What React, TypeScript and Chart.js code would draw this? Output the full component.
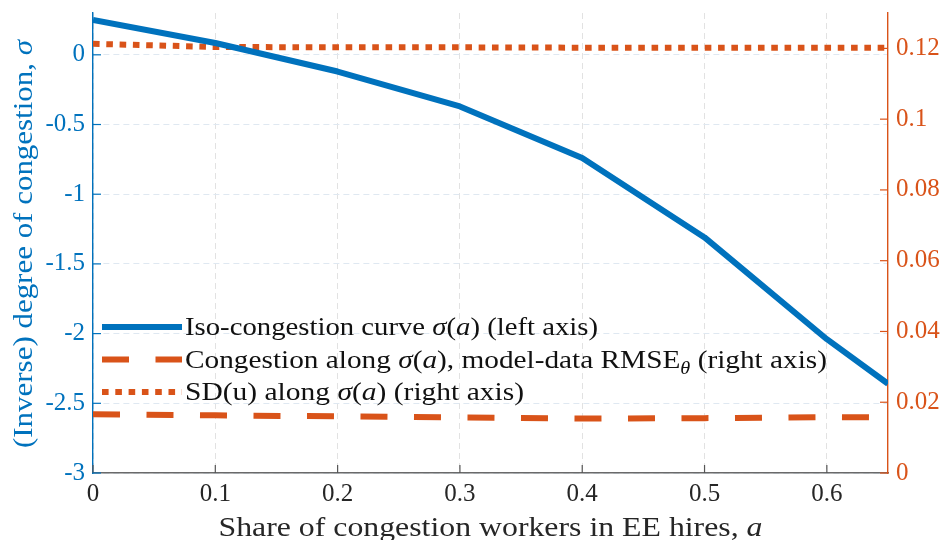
import { useEffect, useRef } from "react";
import { Chart, registerables } from "chart.js";

Chart.register(...registerables);

// ---- data ----
const aValues = [0, 0.1, 0.2, 0.3, 0.4, 0.5, 0.6, 0.65];
const sigmaValues = [0.25, 0.085, -0.12, -0.37, -0.74, -1.31, -2.04, -2.36];
const rmseValues = [0.0166, 0.0163, 0.016, 0.0157, 0.0154, 0.0155, 0.0158, 0.0157];
const sdValues = [0.1213, 0.1204, 0.1203, 0.1203, 0.1202, 0.1202, 0.1202, 0.1202];

const xTicks = [0, 0.1, 0.2, 0.3, 0.4, 0.5, 0.6];
const leftTicks = [-3, -2.5, -2, -1.5, -1, -0.5, 0];
const rightTicks = [0, 0.02, 0.04, 0.06, 0.08, 0.1, 0.12];

type Seg = { t: string; i?: boolean; sub?: boolean };

const xTitle: Seg[] = [{ t: "Share of congestion workers in EE hires, " }, { t: "a", i: true }];
const yTitle: Seg[] = [{ t: "(Inverse) degree of congestion, " }, { t: "σ", i: true }];
const legendItems: Seg[][] = [
  [{ t: "Iso-congestion curve " }, { t: "σ", i: true }, { t: "(" }, { t: "a", i: true }, { t: ") (left axis)" }],
  [
    { t: "Congestion along " },
    { t: "σ", i: true },
    { t: "(" },
    { t: "a", i: true },
    { t: "), model-data RMSE" },
    { t: "θ", i: true, sub: true },
    { t: " (right axis)" },
  ],
  [{ t: "SD(u) along " }, { t: "σ", i: true }, { t: "(" }, { t: "a", i: true }, { t: ") (right axis)" }],
];

// layout (text widths of the original typeset text, used to stretch the fallback serif)
const X_TITLE_W = 544;
const Y_TITLE_W = 408;
const LEGEND_W = [413, 642, 339];

const BLUE = "#0072BD";
const ORANGE = "#D95319";
const DARK = "#262626";
const FONT = '"Liberation Serif", "Times New Roman", serif';
const TICK_SIZE = 25;
const TITLE_SIZE = 27;
const LEGEND_SIZE = 26;

function segFont(s: Seg, size: number) {
  const sz = s.sub ? Math.round(size * 0.7) : size;
  return `${s.i ? "italic " : ""}${sz}px ${FONT}`;
}
function richWidth(ctx: CanvasRenderingContext2D, segs: Seg[], size: number) {
  let w = 0;
  for (const s of segs) {
    ctx.font = segFont(s, size);
    w += ctx.measureText(s.t).width;
  }
  return w;
}
// draws rich text starting at x (baseline y), stretched horizontally to width w
function drawRich(ctx: CanvasRenderingContext2D, segs: Seg[], x: number, y: number, size: number, w: number) {
  const natural = richWidth(ctx, segs, size);
  const sx = w / natural;
  ctx.save();
  ctx.translate(x, y);
  ctx.scale(sx, 1);
  let cx = 0;
  for (const s of segs) {
    ctx.font = segFont(s, size);
    ctx.fillText(s.t, cx, s.sub ? size * 0.25 : 0);
    cx += ctx.measureText(s.t).width;
  }
  ctx.restore();
}

const fmt = (v: number) => String(Number(v.toFixed(3)));

const zeroPad = (s: any) => {
  s.paddingTop = 0;
  s.paddingBottom = 0;
  s.paddingLeft = 0;
  s.paddingRight = 0;
};

const decorPlugin = {
  id: "decor",
  afterDraw(chart: any) {
    const ctx: CanvasRenderingContext2D = chart.ctx;
    const { left, right, top, bottom } = chart.chartArea;
    const xs = chart.scales.x;
    const yl = chart.scales.y;
    const yr = chart.scales.y1;
    ctx.save();
    // inward tick marks
    ctx.lineWidth = 1.2;
    ctx.setLineDash([]);
    ctx.strokeStyle = "#555555";
    for (const v of xTicks) {
      const px = xs.getPixelForValue(v);
      ctx.beginPath();
      ctx.moveTo(px, bottom);
      ctx.lineTo(px, bottom - 8);
      ctx.stroke();
    }
    ctx.strokeStyle = BLUE;
    for (const v of leftTicks) {
      const py = yl.getPixelForValue(v);
      ctx.beginPath();
      ctx.moveTo(left, py);
      ctx.lineTo(left + 8, py);
      ctx.stroke();
    }
    ctx.strokeStyle = ORANGE;
    for (const v of rightTicks) {
      const py = yr.getPixelForValue(v);
      ctx.beginPath();
      ctx.moveTo(right, py);
      ctx.lineTo(right - 8, py);
      ctx.stroke();
    }

    // axis titles
    ctx.textBaseline = "alphabetic";
    ctx.fillStyle = DARK;
    drawRich(ctx, xTitle, (left + right) / 2 - X_TITLE_W / 2, 536, TITLE_SIZE, X_TITLE_W);

    ctx.save();
    ctx.translate(32, (top + bottom) / 2 + 1);
    ctx.rotate(-Math.PI / 2);
    ctx.fillStyle = BLUE;
    drawRich(ctx, yTitle, -Y_TITLE_W / 2, 0, TITLE_SIZE, Y_TITLE_W);
    ctx.restore();

    // legend
    const datasets = chart.data.datasets;
    const lx0 = left + 9;
    const lx1 = left + 89;
    const ly0 = 327;
    const dy = 32.5;
    legendItems.forEach((segs, i) => {
      const ds = datasets[i];
      const y = ly0 + i * dy;
      ctx.strokeStyle = ds.borderColor;
      ctx.lineWidth = ds.borderWidth;
      ctx.lineCap = "butt";
      ctx.setLineDash(ds.borderDash || []);
      ctx.lineDashOffset = 0;
      ctx.beginPath();
      ctx.moveTo(lx0, y);
      ctx.lineTo(lx1, y);
      ctx.stroke();
      ctx.setLineDash([]);
      ctx.fillStyle = "#111111";
      drawRich(ctx, segs, lx1 + 3, y + 8, LEGEND_SIZE, LEGEND_W[i]);
    });
    ctx.restore();
  },
};

export default function App() {
  const ref = useRef<HTMLCanvasElement | null>(null);
  useEffect(() => {
    if (!ref.current) return;
    const chart = new Chart(ref.current, {
      type: "line",
      data: {
        datasets: [
          {
            label: "Iso-congestion curve σ(a) (left axis)",
            data: aValues.map((a, i) => ({ x: a, y: sigmaValues[i] })),
            yAxisID: "y",
            borderColor: BLUE,
            borderWidth: 6,
            borderJoinStyle: "round",
            pointRadius: 0,
            fill: false,
          },
          {
            label: "Congestion along σ(a), model-data RMSE (right axis)",
            data: aValues.map((a, i) => ({ x: a, y: rmseValues[i] })),
            yAxisID: "y1",
            borderColor: ORANGE,
            borderWidth: 6,
            borderDash: [27, 26.5],
            borderDashOffset: 0,
            borderCapStyle: "butt",
            pointRadius: 0,
            fill: false,
          },
          {
            label: "SD(u) along σ(a) (right axis)",
            data: aValues.map((a, i) => ({ x: a, y: sdValues[i] })),
            yAxisID: "y1",
            borderColor: ORANGE,
            borderWidth: 6,
            borderDash: [6.6, 6.7],
            borderCapStyle: "butt",
            pointRadius: 0,
            fill: false,
          },
        ],
      },
      options: {
        responsive: false,
        animation: false,
        devicePixelRatio: 1,
        layout: { padding: { top: 13, left: 0, right: 0, bottom: 0 } },
        plugins: { legend: { display: false }, tooltip: { enabled: false } },
        scales: {
          x: {
            type: "linear",
            min: 0,
            max: 0.65,
            afterBuildTicks: (s: any) => {
              s.ticks = xTicks.map((v) => ({ value: v }));
            },
            afterFit: (s: any) => {
              s.height = 67;
              zeroPad(s);
            },
            ticks: {
              color: DARK,
              font: { family: FONT, size: TICK_SIZE },
              padding: 6,
              maxRotation: 0,
              autoSkip: false,
              callback: (v: any) => fmt(Number(v)),
            },
            grid: { color: "#e2e2e2", lineWidth: 1, drawTicks: false },
            border: { color: "#6a6a6a", width: 1.4, dash: [6, 4] },
          },
          y: {
            type: "linear",
            position: "left",
            min: -3,
            max: 0.3,
            afterBuildTicks: (s: any) => {
              s.ticks = leftTicks.map((v) => ({ value: v }));
            },
            afterFit: (s: any) => {
              s.width = 93;
              zeroPad(s);
            },
            ticks: {
              color: BLUE,
              font: { family: FONT, size: TICK_SIZE },
              padding: 8,
              autoSkip: false,
              callback: (v: any) => fmt(Number(v)),
            },
            grid: { color: "#dfe8f1", lineWidth: 1, drawTicks: false },
            border: { color: BLUE, width: 1.4, dash: [6, 4] },
          },
          y1: {
            type: "linear",
            position: "right",
            min: 0,
            max: 0.13,
            afterBuildTicks: (s: any) => {
              s.ticks = rightTicks.map((v) => ({ value: v }));
            },
            afterFit: (s: any) => {
              s.width = 57;
              zeroPad(s);
            },
            ticks: {
              color: ORANGE,
              font: { family: FONT, size: TICK_SIZE },
              padding: 8,
              autoSkip: false,
              callback: (v: any) => fmt(Number(v)),
            },
            grid: { display: false, drawOnChartArea: false, drawTicks: false },
            border: { color: ORANGE, width: 1.4 },
          },
        },
      },
      plugins: [decorPlugin],
    } as any);
    return () => chart.destroy();
  }, []);

  return (
    <div style={{ position: "absolute", left: 0, top: 0, width: 945, height: 540, background: "#ffffff" }}>
      <canvas ref={ref} width={945} height={540} style={{ display: "block", width: 945, height: 540 }} />
    </div>
  );
}
